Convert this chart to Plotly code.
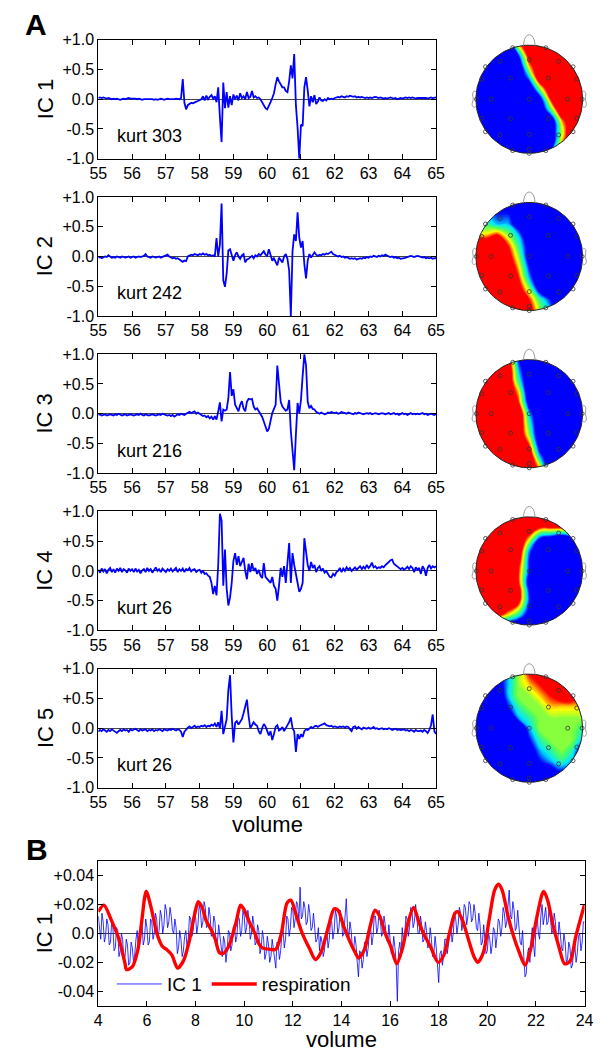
import numpy as np
import plotly.graph_objects as go

W, H = 613, 1061
FONT = "Liberation Sans, Arial, sans-serif"

# ---------------- Panel A data (sampled every 0.05 volume from 55) ----------------
a_x0, a_step = 55.0, 0.05
a_ticks = [55, 56, 57, 58, 59, 60, 61, 62, 63, 64, 65]
a_yticks = [-1.0, -0.5, 0.0, 0.5, 1.0]
a_yticktext = ["-1.0", "-0.5", "0.0", "+0.5", "+1.0"]
ic_names = ["IC 1", "IC 2", "IC 3", "IC 4", "IC 5"]
kurt = [303, 242, 216, 26, 26]

ic1 = [0.02, 0.03, 0.02, 0.03, 0.02, 0.01, 0.02, 0.01, 0.0, 0.01,
       0.0, 0.01, 0.0, -0.01, 0.0, 0.01, 0.0, 0.01, 0.02, 0.01,
       0.01, 0.02, 0.01, 0.0, 0.01, 0.0, -0.01, 0.0, 0.0, 0.01,
       0.0, 0.01, 0.0, -0.01, 0.0, -0.01, 0.0, 0.01, 0.0, -0.01,
       0.0, 0.01, 0.0, 0.0, -0.01, 0.0, 0.01, 0.0, 0.0, 0.02,
       0.34, -0.06, -0.17, -0.1, -0.08, -0.06, -0.07, -0.05, -0.04, -0.03,
       -0.02, 0.0, 0.05, -0.02, 0.06, 0.0, 0.04, 0.07, 0.01, 0.05,
       -0.05, 0.2, -0.3, -0.72, 0.28, -0.15, 0.12, -0.14, 0.05, -0.1,
       0.08, 0.0, 0.06, -0.02, 0.1, 0.02, 0.05, 0.0, 0.12, 0.02,
       0.04, 0.14, 0.03, 0.05, 0.02, 0.03, 0.0, -0.05, -0.12, -0.15,
       -0.17, -0.12, -0.05, 0.02, 0.1, 0.25, 0.37, 0.3, 0.25, 0.2,
       0.2, 0.14, 0.12, 0.3, 0.57, 0.35, 0.76, -0.1, -0.48, -1.0,
       -0.43, -0.45, 0.2, 0.37, 0.15, -0.12, 0.05, -0.05, 0.07, -0.08,
       -0.04, 0.03, -0.02, -0.03, 0.0, -0.02, 0.02, 0.0, 0.01, 0.0,
       0.02, 0.03, 0.04, 0.03, 0.05, 0.04, 0.03, 0.05, 0.04, 0.06,
       0.05, 0.04, 0.05, 0.03, 0.04, 0.03, 0.04, 0.03, 0.02, 0.03,
       0.02, 0.03, 0.02, 0.03, 0.04, 0.03, 0.02, 0.03, 0.02, 0.01,
       0.02, 0.01, 0.02, 0.03, 0.02, 0.01, 0.02, 0.0, 0.01, 0.02,
       0.01, 0.02, 0.03, 0.02, 0.03, 0.02, 0.03, 0.02, 0.01, 0.02,
       0.02, 0.03, 0.02, 0.03, 0.02, 0.01, 0.02, 0.03, 0.02, 0.03, 0.03]

ic2 = [-0.02, -0.01, -0.03, -0.02, 0.0, -0.01, 0.02, 0.0, -0.02, -0.01,
       -0.02, 0.0, -0.01, -0.02, 0.0, -0.01, -0.02, -0.01, 0.0, -0.02,
       -0.01, 0.0, -0.02, -0.01, 0.0, -0.01, 0.0, 0.01, 0.04, 0.0,
       -0.01, -0.02, 0.0, -0.01, -0.02, -0.01, 0.0, -0.02, -0.01, 0.0,
       0.01, 0.03, 0.0, -0.02, -0.03, -0.02, -0.04, -0.03, -0.05, -0.06,
       -0.09, -0.07, -0.08, 0.0, 0.02, 0.03, 0.02, 0.04, 0.03, 0.02,
       0.04, 0.03, 0.05, 0.03, 0.04, 0.02, 0.03, 0.01, 0.02, 0.0,
       0.31, 0.0, 0.2, 0.89, -0.4, -0.51, -0.29, 0.1, 0.12, 0.03,
       -0.07, 0.02, 0.07, 0.0, -0.04, 0.02, 0.04, -0.1, -0.05, -0.04,
       -0.02, 0.01, -0.03, 0.02, 0.0, 0.04, 0.02, 0.05, 0.09, 0.03,
       0.01, 0.12, 0.0, -0.07, -0.03, -0.1, -0.15, -0.02, -0.06, -0.1,
       0.0, 0.04, -0.04, -0.24, -1.0, 0.09, 0.37, 0.26, 0.74, 0.31,
       0.15, 0.26, -0.13, -0.37, -0.07, 0.04, -0.02, 0.02, 0.07, 0.03,
       0.01, 0.03, 0.02, 0.04, 0.03, 0.05, 0.04, 0.06, 0.08, 0.04,
       0.03, 0.02, 0.0, 0.01, -0.01, 0.0, -0.02, -0.01, -0.03, -0.04,
       -0.03, -0.04, -0.03, -0.05, -0.04, -0.03, -0.04, -0.02, -0.03, -0.01,
       -0.02, 0.0, -0.01, 0.01, 0.0, -0.01, 0.01, 0.0, 0.02, 0.01,
       0.03, 0.01, 0.0, -0.01, 0.0, -0.02, -0.01, -0.03, -0.02, -0.04,
       -0.04, -0.03, -0.02, -0.01, 0.0, 0.01, 0.0, -0.01, 0.0, 0.01,
       0.0, -0.01, -0.02, -0.01, -0.03, -0.02, -0.03, -0.02, -0.04, -0.03, -0.03]

ic3 = [-0.02, -0.01, -0.03, -0.02, -0.01, -0.03, -0.02, -0.01, -0.02, -0.03,
       -0.01, -0.02, 0.0, -0.02, -0.03, -0.02, -0.01, -0.03, -0.02, -0.01,
       -0.02, -0.03, -0.02, -0.01, -0.02, 0.0, -0.02, -0.03, -0.01, -0.02,
       -0.03, -0.02, -0.01, -0.02, -0.03, -0.02, -0.01, -0.02, 0.0, -0.01,
       -0.02, -0.03, -0.02, -0.04, -0.02, -0.05, -0.03, -0.01, -0.02, 0.0,
       -0.01, -0.02, 0.0, 0.01, 0.03, 0.01, 0.02, 0.04, 0.0, 0.02,
       0.0, -0.02, -0.04, -0.03, -0.06, -0.04, -0.08, -0.05, -0.1, -0.04,
       -0.1, 0.04, 0.19, -0.13, 0.07, 0.05, 0.07, 0.26, 0.70, 0.3,
       0.41, 0.15, 0.09, 0.04, 0.15, 0.21, 0.09, 0.04, 0.2, 0.25,
       0.24, 0.25, 0.12, 0.07, 0.09, 0.05, 0.01, -0.05, -0.13, -0.22,
       -0.3, -0.25, -0.1, 0.01, 0.08, 0.15, 0.81, 0.48, 0.2, 0.12,
       0.09, 0.05, 0.07, 0.23, -0.29, -0.62, -0.95, -0.35, 0.18, 0.01,
       0.23, 0.64, 1.0, 0.81, 0.2, 0.09, 0.13, 0.08, 0.07, 0.03,
       0.01, 0.0, 0.02, 0.01, -0.01, 0.0, 0.02, 0.01, 0.03, 0.02,
       0.01, 0.02, 0.0, 0.01, 0.03, 0.02, 0.01, 0.0, 0.02, 0.01,
       0.0, -0.01, 0.01, 0.0, 0.02, 0.01, 0.0, -0.01, 0.0, 0.01,
       0.0, 0.01, -0.01, 0.0, 0.01, 0.0, -0.01, 0.0, 0.01, 0.0,
       -0.01, 0.0, 0.01, -0.01, 0.0, 0.01, -0.01, 0.0, -0.02, 0.0,
       0.01, -0.01, 0.0, -0.02, 0.0, 0.01, -0.01, 0.0, -0.01, 0.0,
       -0.01, 0.0, 0.01, -0.01, 0.0, -0.02, -0.01, 0.0, -0.01, -0.02, 0.0]

ic4 = [0.02, -0.03, 0.04, -0.01, 0.03, -0.04, 0.02, 0.05, -0.02, 0.03,
       -0.03, 0.04, 0.0, 0.05, -0.02, 0.03, 0.01, -0.03, 0.04, 0.0,
       0.03, -0.02, 0.04, -0.01, 0.02, -0.04, 0.01, 0.03, -0.02, 0.05,
       0.0, 0.03, -0.03, 0.02, 0.06, 0.0, 0.03, -0.02, 0.04, 0.01,
       -0.02, 0.03, 0.0, 0.04, -0.01, 0.02, 0.05, -0.02, 0.03, 0.0,
       0.04, -0.02, 0.03, 0.01, 0.05, -0.01, 0.02, 0.03, -0.02, 0.01,
       0.02, -0.03, 0.0, -0.05, -0.04, -0.08, -0.1, -0.2, -0.39, -0.25,
       -0.41, 0.1, 0.96, 0.85, -0.25, 0.36, -0.3, -0.58, -0.45, -0.2,
       0.17, 0.3, 0.1, 0.25, 0.08, 0.15, 0.22, 0.0, -0.14, 0.12,
       -0.02, 0.13, 0.0, 0.05, -0.05, 0.02, -0.08, -0.12, 0.13, -0.1,
       -0.14, -0.18, -0.2, -0.1, -0.25, -0.3, -0.5, -0.25, 0.05, -0.1,
       0.08, -0.2, 0.1, 0.47, -0.2, 0.3, 0.1, -0.05, -0.25, -0.35,
       -0.3, -0.2, 0.55, 0.3, 0.1, 0.0, 0.15, 0.05, 0.1, -0.02,
       0.05, 0.08, 0.0, 0.04, -0.03, 0.0, -0.06, -0.1, -0.11, -0.05,
       -0.08, -0.02, 0.0, 0.05, -0.02, 0.04, 0.0, 0.06, 0.02, 0.05,
       0.0, 0.03, 0.06, 0.02, 0.05, 0.08, 0.03, 0.07, 0.04, 0.1,
       0.05, 0.08, 0.14, 0.06, 0.08, 0.04, 0.06, 0.05, 0.08, 0.06,
       0.1, 0.12, 0.15, 0.18, 0.19, 0.12, 0.1, 0.08, 0.06, 0.03,
       0.05, 0.02, 0.04, 0.07, 0.03, 0.08, 0.05, -0.02, 0.06, 0.02,
       0.05, -0.05, 0.08, 0.03, -0.08, 0.05, 0.1, 0.04, 0.08, 0.06, 0.08]

ic5 = [-0.06, -0.03, -0.05, -0.02, -0.04, -0.06, -0.03, -0.05, -0.02, -0.04,
       -0.06, -0.08, -0.05, -0.03, -0.05, -0.02, -0.04, -0.03, -0.06, -0.02,
       -0.04, -0.03, -0.01, -0.03, -0.05, -0.02, -0.04, -0.03, -0.02, -0.05,
       -0.03, -0.04, -0.02, -0.05, -0.03, -0.04, -0.02, -0.03, -0.05, -0.02,
       -0.03, -0.04, -0.02, -0.03, -0.01, -0.03, -0.04, -0.02, -0.03, -0.06,
       -0.15, -0.06, -0.02, 0.01, 0.03, 0.0, 0.02, 0.04, 0.01, 0.03,
       0.02, 0.04, 0.03, 0.05, 0.02, 0.04, 0.03, 0.06, 0.04, 0.08,
       0.02, 0.1, 0.0, 0.29, -0.1, 0.05, 0.15, 0.64, 0.89, 0.2,
       -0.24, 0.09, 0.12, 0.06, 0.1, 0.15, 0.25, 0.35, 0.48, 0.2,
       0.0, 0.05, 0.1, 0.06, 0.04, -0.05, -0.1, 0.0, 0.07, 0.03,
       -0.05, -0.12, -0.05, -0.2, -0.1, 0.02, 0.05, -0.04, -0.02, 0.02,
       -0.05, 0.0, 0.05, 0.1, 0.18, 0.0, -0.05, -0.4, -0.1, -0.18,
       -0.1, -0.15, -0.05, -0.02, -0.03, 0.0, 0.02, 0.0, 0.03, 0.04,
       0.02, 0.04, 0.05, 0.06, 0.08, 0.05, 0.04, 0.03, 0.04, 0.02,
       0.03, 0.02, 0.01, 0.03, 0.02, 0.03, 0.01, 0.03, 0.02, -0.02,
       -0.05, 0.02, 0.03, -0.01, 0.02, 0.0, -0.02, 0.01, 0.0, -0.01,
       0.01, -0.01, 0.0, 0.02, -0.01, 0.0, -0.02, -0.01, 0.0, -0.02,
       -0.01, -0.02, 0.0, -0.01, -0.03, -0.02, -0.01, -0.03, -0.02, -0.03,
       -0.03, -0.02, -0.04, -0.03, -0.05, -0.03, -0.04, -0.06, -0.03, -0.05,
       -0.05, -0.04, -0.06, -0.03, -0.05, -0.08, -0.03, 0.05, 0.23, -0.05, -0.1]

ic_series = [ic1, ic2, ic3, ic4, ic5]

# ---------------- Scalp maps: values on an 11x11 grid (rows top->bottom), digits 0 (blue) .. 9 (red) ----------------
map_grid = [-1.0, -0.8, -0.6, -0.4, -0.2, 0.0, 0.2, 0.4, 0.6, 0.8, 1.0]
map1 = ["00006999999", "00002899999", "00000699999", "00000399999", "00000059999", "00000017999",
        "00000004999", "00000000699", "00000000599", "00000000699", "00000003999"]
map2 = ["00000000000", "33220000000", "44331000000", "66753000000", "99974100000", "99985100000",
        "99996200000", "99997300000", "99998510000", "99999742000", "99999853100"]
map3 = ["99982000000", "99993000000", "99994000000", "99996000000", "99997100000", "99999300000",
        "99999400000", "99999500000", "99999710000", "99999930000", "99999960000"]
map4 = ["99999999986", "99999977787", "99999621012", "99999300000", "99998200000", "99997200000",
        "99997100000", "99998200000", "99997200000", "99864100000", "64210000000"]
map5 = ["00135789998", "00135679987", "00035567887", "00024556666", "00003455555", "00000355554",
        "00000245553", "00000134541", "00000023430", "00000001210", "00000000000"]
maps = [map1, map2, map3, map4, map5]

# electrode positions (unit head radius)
electrodes = [(-0.31, 0.95), (0.31, 0.95), (-0.82, 0.6), (-0.55, 0.7), (0.0, 0.73), (0.55, 0.7), (0.82, 0.6),
              (-0.89, 0.37), (-0.35, 0.39), (0.36, 0.39), (0.89, 0.37), (-0.99, 0.0), (-0.71, 0.0), (0.0, 0.0),
              (0.72, 0.0), (0.99, 0.0), (-0.89, -0.35), (-0.35, -0.36), (0.36, -0.36), (0.89, -0.35),
              (-0.82, -0.6), (-0.55, -0.66), (0.0, -0.65), (0.55, -0.66), (0.82, -0.6), (-0.31, -0.95),
              (0.0, -0.92), (0.31, -0.95), (0.0, -1.0)]

# ---------------- Panel B data (IC 1 sampled every 0.05 volume from 4) ----------------
b_x0, b_step = 4.0, 0.05
b_ticks = [4, 6, 8, 10, 12, 14, 16, 18, 20, 22, 24]
b_yticks = [-0.04, -0.02, 0.0, 0.02, 0.04]
b_yticktext = ["-0.04", "-0.02", "0.0", "+0.02", "+0.04"]
ic1_b = [0.012, 0.002, -0.004, 0.014, 0.008, -0.006, -0.002, 0.01, 0.006, -0.008,
         -0.006, 0.008, 0.004, -0.012, -0.01, 0.004, 0.002, -0.016, -0.012, 0.0,
         -0.004, -0.018, -0.016, -0.004, -0.008, -0.022, -0.02, -0.006, -0.01, -0.02,
         -0.014, -0.004, 0.002, -0.012, -0.008, 0.008, 0.006, -0.008, -0.004, 0.01,
         0.004, -0.008, -0.006, 0.01, 0.008, -0.004, 0.0, 0.014, 0.01, -0.002,
         0.002, 0.016, 0.012, 0.0, 0.006, 0.02, 0.016, 0.004, 0.008, 0.018,
         0.012, 0.002, 0.0, 0.01, 0.004, -0.014, -0.01, 0.002, -0.004, -0.016,
         -0.012, -0.002, 0.002, -0.01, -0.004, 0.012, 0.01, -0.002, 0.002, 0.016,
         0.012, 0.0, 0.006, 0.02, 0.016, 0.004, 0.008, 0.022, 0.018, 0.004,
         0.006, 0.018, 0.012, -0.002, 0.0, 0.012, 0.008, -0.008, -0.006, 0.006,
         -0.002, -0.012, -0.016, -0.002, -0.006, -0.02, -0.012, 0.002, 0.0, -0.012,
         -0.008, 0.004, 0.006, -0.006, -0.002, 0.012, 0.01, -0.002, 0.002, 0.016,
         0.012, 0.0, 0.004, 0.016, 0.01, -0.004, 0.0, 0.012, 0.006, -0.008,
         -0.006, 0.006, 0.002, -0.014, -0.01, 0.002, -0.004, -0.018, -0.014, -0.002,
         -0.008, -0.02, -0.016, -0.004, -0.01, -0.018, -0.024, -0.006, -0.008, -0.018,
         -0.012, 0.0, 0.002, -0.01, -0.004, 0.012, 0.01, -0.002, 0.004, 0.018,
         0.016, 0.004, 0.01, 0.022, 0.02, 0.008, 0.032, 0.01, 0.012, 0.022,
         0.018, 0.006, 0.008, 0.02, 0.014, 0.002, 0.004, 0.014, 0.006, -0.006,
         -0.004, 0.004, -0.012, -0.002, -0.006, -0.016, -0.012, 0.0, 0.002, -0.01,
         -0.004, 0.008, 0.008, -0.004, 0.002, 0.016, 0.012, 0.0, 0.004, 0.016,
         0.01, -0.002, 0.0, 0.012, 0.024, 0.004, -0.004, 0.008, 0.002, -0.01,
         -0.012, -0.002, -0.008, -0.02, -0.03, -0.012, -0.014, -0.024, -0.018, -0.006,
         -0.006, -0.016, -0.01, 0.002, 0.004, -0.008, -0.002, 0.012, 0.012, 0.0,
         0.004, 0.016, 0.01, -0.002, 0.0, 0.012, 0.006, -0.004, -0.006, 0.006,
         -0.002, -0.014, -0.014, -0.002, -0.01, -0.02, -0.047, -0.012, -0.006, -0.016,
         0.004, -0.006, -0.002, 0.012, 0.01, -0.002, 0.004, 0.018, 0.016, 0.004,
         0.008, 0.02, 0.012, 0.0, 0.0, 0.012, 0.006, -0.006, -0.004, 0.008,
         0.002, -0.01, -0.008, 0.004, -0.004, -0.016, -0.014, -0.002, -0.01, -0.022,
         -0.034, -0.014, -0.012, -0.022, -0.016, -0.004, -0.004, -0.014, -0.008, 0.004,
         0.004, -0.006, 0.0, 0.014, 0.01, 0.0, 0.006, 0.018, 0.014, 0.002,
         0.008, 0.02, 0.018, 0.006, 0.012, 0.022, 0.02, 0.008, 0.01, 0.02,
         0.014, 0.004, 0.002, 0.014, 0.006, -0.008, -0.006, 0.006, -0.002, -0.014,
         -0.012, 0.0, -0.004, -0.014, -0.008, 0.004, 0.002, -0.01, -0.002, 0.01,
         0.008, -0.002, 0.004, 0.018, 0.014, 0.004, 0.008, 0.02, 0.03, 0.012,
         0.01, 0.022, 0.016, 0.002, 0.004, 0.016, 0.006, -0.006, -0.008, 0.002,
         -0.016, -0.03, -0.028, -0.014, -0.01, -0.02, -0.004, 0.004, -0.008, -0.016,
         0.004, 0.012, 0.0, -0.004, 0.012, 0.02, 0.006, 0.012, 0.018, 0.006,
         0.008, 0.02, 0.012, 0.0, 0.002, 0.014, 0.008, -0.006, -0.004, 0.008,
         0.0, -0.01, -0.012, 0.0, -0.006, -0.02, -0.018, -0.006, -0.01, -0.024,
         -0.022, -0.01, -0.008, -0.02, -0.014, -0.002, 0.0, -0.012, -0.006, 0.008,
         0.008]

resp_x = [4.0, 4.23, 4.54, 4.85, 5.09, 5.16, 5.4, 5.63, 5.79, 5.97, 6.17, 6.41, 6.64, 6.8, 7.03,
          7.26, 7.5, 7.73, 7.96, 8.11, 8.27, 8.43, 8.66, 8.81, 8.97, 9.12, 9.36, 9.67, 9.85, 9.98,
          10.21, 10.44, 10.6, 10.75, 11.07, 11.3, 11.53, 11.76, 11.92, 12.15, 12.39, 12.7, 12.93,
          13.16, 13.47, 13.7, 13.86, 14.09, 14.33, 14.56, 14.71, 14.95, 15.18, 15.38, 15.57, 15.8,
          16.03, 16.27, 16.5, 16.73, 16.97, 17.2, 17.43, 17.66, 17.98, 18.21, 18.44, 18.67, 18.78,
          18.98, 19.22, 19.45, 19.61, 19.84, 20.07, 20.3, 20.46, 20.61, 20.85, 21.08, 21.31, 21.55,
          21.78, 22.01, 22.25, 22.32, 22.48, 22.71, 22.94, 23.18, 23.41, 23.64, 24.0]
resp_y = [0.015, 0.0196, 0.009, -0.004, -0.02, -0.025, -0.023, -0.011, 0.009, 0.029, 0.018, 0.0,
          -0.009, -0.011, -0.015, -0.024, -0.019, -0.006, 0.013, 0.022, 0.018, 0.009, 0.002, -0.004,
          -0.013, -0.014, -0.009, 0.008, 0.0196, 0.017, 0.008, 0.0, -0.007, -0.01, -0.011, -0.011,
          0.0, 0.021, 0.023, 0.012, 0.0, -0.011, -0.018, -0.013, 0.005, 0.017, 0.016, 0.005, -0.005,
          -0.013, -0.017, -0.011, 0.005, 0.016, 0.012, 0.0, -0.009, -0.021, -0.011, 0.007, 0.018,
          0.007, -0.002, -0.009, -0.02, -0.015, 0.0, 0.014, 0.015, 0.009, -0.004, -0.016, -0.02,
          -0.013, 0.009, 0.03, 0.034, 0.03, 0.012, -0.002, -0.013, -0.022, -0.011, 0.009, 0.027,
          0.029, 0.023, 0.005, -0.009, -0.021, -0.019, -0.002, 0.02]

# ---------------- geometry helpers (pixel -> paper) ----------------
def xd(p0, p1):
    return [p0 / W, p1 / W]

def yd(top, bottom):
    return [1 - bottom / H, 1 - top / H]

A_LEFT, A_RIGHT = 92, 440
A_ZERO = [92.7, 252.5, 412.3, 572.1, 731.9]
A_HALF = 60.5
MAP_CX, MAP_R = 536, 55
MAP_RANGE = 1.25
B_LEFT, B_RIGHT, B_TOP, B_BOTTOM = 92, 593, 867, 1014

tickfont = dict(family=FONT, size=16, color="black")

def frame_axis(domain, rng, tickvals, ticktext, anchor):
    return dict(domain=domain, range=rng, tickvals=tickvals, ticktext=ticktext,
                ticks="inside", ticklen=5, tickwidth=1, tickcolor="black",
                showline=True, linecolor="black", linewidth=1, mirror="ticks",
                showgrid=False, zeroline=False, tickfont=tickfont, anchor=anchor,
                fixedrange=True)

fig = go.Figure()
layout = dict(width=W, height=H, margin=dict(l=0, r=0, t=0, b=0), autosize=False,
              paper_bgcolor="white", plot_bgcolor="white",
              font=dict(family=FONT, color="black"))
annotations = []

jet = [[0.0, "rgb(0,0,255)"], [0.25, "rgb(0,230,255)"], [0.5, "rgb(80,255,90)"],
       [0.75, "rgb(255,255,0)"], [1.0, "rgb(255,0,0)"]]

# ---------------- Panel A time courses ----------------
for k in range(5):
    n = k + 1
    ys = ic_series[k]
    xs = a_x0 + a_step * np.arange(len(ys))
    fig.add_trace(go.Scatter(x=xs, y=ys, mode="lines", line=dict(color="#0000ff", width=1.8),
                             xaxis=f"x{n}", yaxis=f"y{n}", showlegend=False, hoverinfo="skip"))
    z = A_ZERO[k]
    xa = frame_axis(xd(A_LEFT, A_RIGHT), [55, 65], a_ticks, [str(t) for t in a_ticks], f"y{n}")
    ya = frame_axis(yd(z - A_HALF, z + A_HALF), [-1, 1], a_yticks, a_yticktext, f"x{n}")
    ya.update(zeroline=True, zerolinecolor="#444", zerolinewidth=1)
    layout["xaxis" if n == 1 else f"xaxis{n}"] = xa
    layout["yaxis" if n == 1 else f"yaxis{n}"] = ya
    annotations.append(dict(text=ic_names[k], x=37 / W, y=1 - z / H, xref="paper", yref="paper",
                            showarrow=False, textangle=-90, font=dict(family=FONT, size=22, color="black"),
                            xanchor="center", yanchor="middle"))
    annotations.append(dict(text=f"kurt {kurt[k]}", x=55.5, y=-0.62, xref=f"x{n}", yref=f"y{n}",
                            showarrow=False, xanchor="left", yanchor="middle",
                            font=dict(family=FONT, size=18, color="black")))

# ---------------- Panel B ----------------
xb = b_x0 + b_step * np.arange(len(ic1_b))
fig.add_trace(go.Scatter(x=xb, y=ic1_b, mode="lines", name="IC 1", line=dict(color="#0000ff", width=0.8),
                         xaxis="x6", yaxis="y6", hoverinfo="skip"))
fig.add_trace(go.Scatter(x=resp_x, y=resp_y, mode="lines", name="respiration",
                         line=dict(color="#ff0000", width=3.4, shape="spline", smoothing=0.8),
                         xaxis="x6", yaxis="y6", hoverinfo="skip"))
xa = frame_axis(xd(B_LEFT, B_RIGHT), [4, 24], b_ticks, [str(t) for t in b_ticks], "y6")
ya = frame_axis(yd(B_TOP, B_BOTTOM), [-0.05, 0.05], b_yticks, b_yticktext, "x6")
ya.update(zeroline=True, zerolinecolor="#444", zerolinewidth=1)
layout["xaxis6"] = xa
layout["yaxis6"] = ya
annotations.append(dict(text="IC 1", x=37 / W, y=1 - (B_TOP + B_BOTTOM) / 2 / H, xref="paper", yref="paper",
                        showarrow=False, textangle=-90, font=dict(family=FONT, size=22, color="black"),
                        xanchor="center", yanchor="middle"))

# ---------------- Scalp maps ----------------
theta = np.linspace(0, 2 * np.pi, 181)
circ_x, circ_y = np.cos(theta), np.sin(theta)
sq = 1.4
mask_x = [-sq, -sq, sq, sq, -sq] + list(np.cos(np.pi * 1.25 + theta)) + [-sq]
mask_y = [-sq, sq, sq, -sq, -sq] + list(np.sin(np.pi * 1.25 + theta)) + [-sq]
nose_x = [-0.11, -0.09, -0.05, 0.0, 0.05, 0.09, 0.11]
nose_y = [0.99, 1.1, 1.17, 1.19, 1.17, 1.1, 0.99]
ear_x = [-0.995, -1.03, -1.06, -1.05, -1.07, -1.04, -0.995]
ear_y = [0.13, 0.15, 0.1, 0.0, -0.1, -0.15, -0.13]

for k in range(5):
    n = 7 + k
    xr, yr = f"x{n}", f"y{n}"
    zvals = [[int(c) for c in row] for row in maps[k][::-1]]
    fig.add_trace(go.Contour(x=map_grid, y=map_grid, z=zvals, zmin=2, zmax=7, zauto=False,
                             colorscale=jet, showscale=False,
                             contours=dict(start=2, end=7, size=0.2, coloring="fill", showlines=False),
                             line=dict(width=0, smoothing=1.3), xaxis=xr, yaxis=yr,
                             hoverinfo="skip", showlegend=False))
    fig.add_trace(go.Scatter(x=mask_x, y=mask_y, mode="lines", fill="toself", fillcolor="white",
                             line=dict(width=0, color="white"), xaxis=xr, yaxis=yr,
                             hoverinfo="skip", showlegend=False))
    fig.add_trace(go.Scatter(x=circ_x, y=circ_y, mode="lines", line=dict(color="#222", width=1),
                             xaxis=xr, yaxis=yr, hoverinfo="skip", showlegend=False))
    fig.add_trace(go.Scatter(x=nose_x, y=nose_y, mode="lines", line=dict(color="#999", width=1, shape="spline"),
                             xaxis=xr, yaxis=yr, hoverinfo="skip", showlegend=False))
    for sgn in (1, -1):
        fig.add_trace(go.Scatter(x=[sgn * v for v in ear_x], y=ear_y, mode="lines",
                                 line=dict(color="#999", width=1, shape="spline"),
                                 xaxis=xr, yaxis=yr, hoverinfo="skip", showlegend=False))
    fig.add_trace(go.Scatter(x=[e[0] for e in electrodes], y=[e[1] for e in electrodes], mode="markers",
                             marker=dict(symbol="circle-open", size=4, color="#333", line=dict(width=0.8)),
                             xaxis=xr, yaxis=yr, hoverinfo="skip", showlegend=False))
    z = A_ZERO[k]
    span = MAP_R * MAP_RANGE
    layout[f"xaxis{n}"] = dict(domain=xd(MAP_CX - span, MAP_CX + span), range=[-MAP_RANGE, MAP_RANGE],
                               visible=False, anchor=yr, fixedrange=True)
    layout[f"yaxis{n}"] = dict(domain=yd(z - span, z + span), range=[-MAP_RANGE, MAP_RANGE],
                               visible=False, anchor=xr, fixedrange=True)

# ---------------- labels ----------------
annotations += [
    dict(text="<b>A</b>", x=28 / W, y=1 - 17 / H, xref="paper", yref="paper", showarrow=False,
         font=dict(family=FONT, size=30, color="black"), xanchor="center", yanchor="middle"),
    dict(text="<b>B</b>", x=29 / W, y=1 - 855 / H, xref="paper", yref="paper", showarrow=False,
         font=dict(family=FONT, size=30, color="black"), xanchor="center", yanchor="middle"),
    dict(text="volume", x=(A_LEFT + A_RIGHT) / 2 / W, y=1 - 830 / H, xref="paper", yref="paper",
         showarrow=False, font=dict(family=FONT, size=22, color="black"), xanchor="center", yanchor="middle"),
    dict(text="volume", x=(B_LEFT + B_RIGHT) / 2 / W, y=1 - 1048 / H, xref="paper", yref="paper",
         showarrow=False, font=dict(family=FONT, size=22, color="black"), xanchor="center", yanchor="middle"),
]
layout["annotations"] = annotations
layout["legend"] = dict(orientation="h", x=106 / W, y=1 - 992 / H, xanchor="left", yanchor="middle",
                        bgcolor="rgba(0,0,0,0)", itemwidth=45,
                        font=dict(family=FONT, size=19, color="black"))
layout["showlegend"] = True
fig.update_layout(**layout)
fig.write_html("out.html")
